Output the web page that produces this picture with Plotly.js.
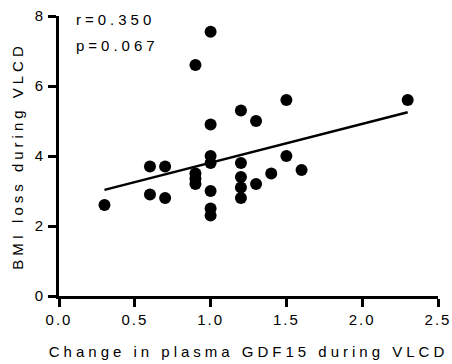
<!DOCTYPE html>
<html>
<head>
<meta charset="utf-8">
<script src="https://cdn.plot.ly/plotly-3.0.1.min.js"></script>
<style>
  html, body { margin: 0; padding: 0; background: #fff; }
  #chart { width: 452px; height: 364px; }
  .xtick text, .ytick text { letter-spacing: 2px; }
  .g-xtitle text, .g-ytitle text, .annotation-text { letter-spacing: 4px; }
</style>
</head>
<body>
<div id="chart"></div>
<script>
// Data
const gdf15Change = [0.3, 0.6, 0.6, 0.7, 0.7, 0.9, 0.9, 0.9, 0.9,
  1.0, 1.0, 1.0, 1.0, 1.0, 1.0, 1.0,
  1.2, 1.2, 1.2, 1.2, 1.2, 1.3, 1.3, 1.4, 1.5, 1.5, 1.6, 2.3];
const bmiLoss = [2.6, 3.7, 2.9, 3.7, 2.8, 6.6, 3.5, 3.35, 3.2,
  7.55, 4.9, 4.0, 3.8, 3.0, 2.5, 2.3,
  5.3, 3.8, 3.4, 3.1, 2.8, 5.0, 3.2, 3.5, 5.6, 4.0, 3.6, 5.6];
const statsLabels = ["r=0.350", "p=0.067"];
const xTicks = [0, 0.5, 1.0, 1.5, 2.0, 2.5];
const yTicks = [0, 2, 4, 6, 8];

// Least-squares regression line from the data
const n = gdf15Change.length;
const mx = gdf15Change.reduce((a, b) => a + b, 0) / n;
const my = bmiLoss.reduce((a, b) => a + b, 0) / n;
let sxy = 0, sxx = 0;
for (let i = 0; i < n; i++) {
  sxy += (gdf15Change[i] - mx) * (bmiLoss[i] - my);
  sxx += (gdf15Change[i] - mx) * (gdf15Change[i] - mx);
}
const slope = sxy / sxx;
const intercept = my - slope * mx;
const fitX = [Math.min(...gdf15Change), Math.max(...gdf15Change)];
const fitY = fitX.map(v => intercept + slope * v);

const font = "Liberation Sans, Arial, sans-serif";

const traces = [
  {
    x: fitX, y: fitY, type: "scatter", mode: "lines",
    line: { color: "#000", width: 2.5 }, cliponaxis: false, showlegend: false
  },
  {
    x: gdf15Change, y: bmiLoss, type: "scatter", mode: "markers",
    marker: { color: "#000", size: 12 }, cliponaxis: false, showlegend: false
  }
];

const layout = {
  width: 452, height: 364,
  margin: { l: 59, r: 14, t: 16, b: 67.5 },
  paper_bgcolor: "#fff", plot_bgcolor: "#fff",
  font: { family: font, color: "#000", size: 15 },
  xaxis: {
    range: [0, 2.5], tickvals: xTicks, tickformat: ".1f",
    showgrid: false, zeroline: false, showline: true, linecolor: "#000", linewidth: 3,
    ticks: "outside", ticklen: 8, tickwidth: 3, tickcolor: "#000",
    tickfont: { size: 15, family: font, color: "#000" },
    title: { text: "Change in plasma GDF15 during VLCD", font: { size: 15, family: font, color: "#000" }, standoff: 20 }
  },
  yaxis: {
    range: [0, 8], tickvals: yTicks,
    showgrid: false, zeroline: false, showline: true, linecolor: "#000", linewidth: 3,
    ticks: "outside", ticklen: 8, tickwidth: 3, tickcolor: "#000",
    tickfont: { size: 15, family: font, color: "#000" },
    title: { text: "BMI loss during VLCD", font: { size: 15, family: font, color: "#000" }, standoff: 8 }
  },
  annotations: [
    { x: 0.1, y: 7.9, xref: "x", yref: "y", text: statsLabels[0], showarrow: false,
      xanchor: "left", yanchor: "middle", font: { size: 15, family: font, color: "#000" } },
    { x: 0.1, y: 7.15, xref: "x", yref: "y", text: statsLabels[1], showarrow: false,
      xanchor: "left", yanchor: "middle", font: { size: 15, family: font, color: "#000" } }
  ]
};

Plotly.newPlot("chart", traces, layout, { displayModeBar: false, staticPlot: true });
</script>
</body>
</html>
